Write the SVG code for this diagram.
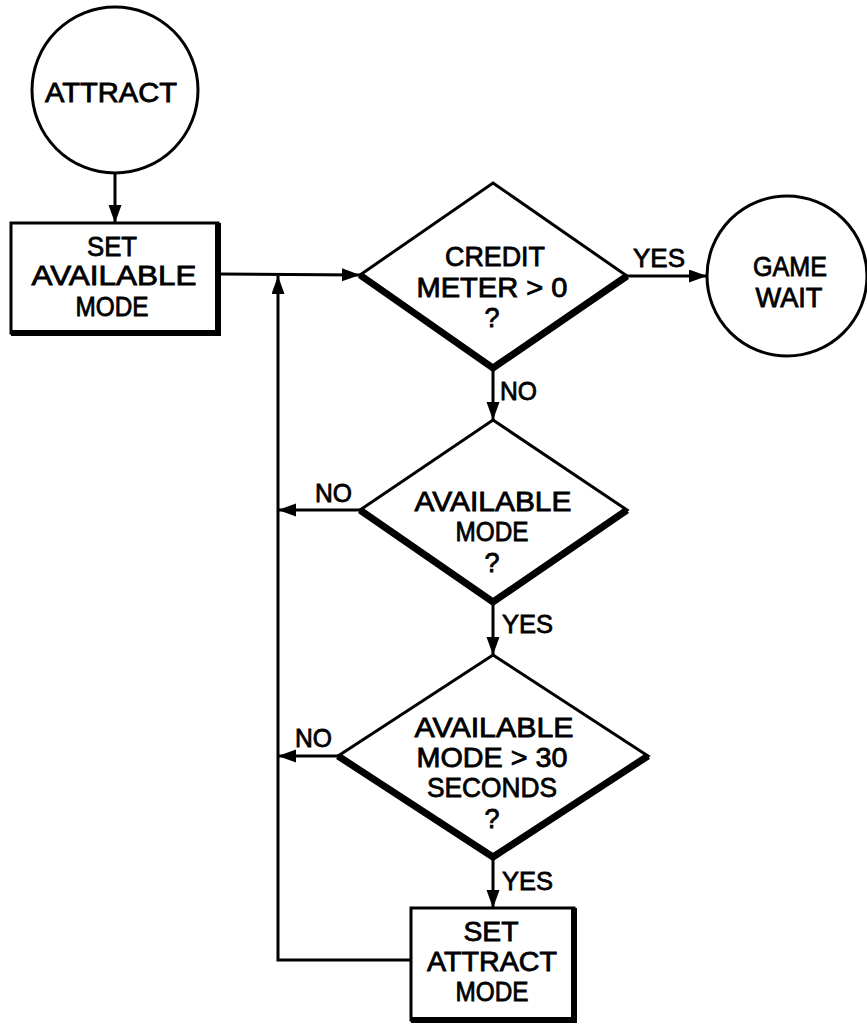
<svg xmlns="http://www.w3.org/2000/svg" width="867" height="1026" viewBox="0 0 867 1026">
<defs>
<marker id="arr" markerUnits="userSpaceOnUse" markerWidth="20" markerHeight="14" refX="18" refY="6.5" orient="auto">
<path d="M0,0 L18,6.5 L0,13 z" fill="#000"/>
</marker>
</defs>
<style>
.t{font-family:"Liberation Sans",Arial,sans-serif;font-size:27px;fill:#000;stroke:#000;stroke-width:0.8;text-anchor:middle}
.l{font-family:"Liberation Sans",Arial,sans-serif;font-size:26px;fill:#000;stroke:#000;stroke-width:0.8}
.thin{fill:none;stroke:#000;stroke-width:3}
.thick{fill:none;stroke:#000;stroke-width:7;stroke-linejoin:miter}
.bx{fill:none;stroke:#000;stroke-width:6}
.c{fill:none;stroke:#000;stroke-width:3;marker-end:url(#arr)}
</style>
<rect width="867" height="1026" fill="#fff"/>
<g id="connectors">
<line class="c" x1="115" y1="173" x2="115" y2="223"/>
<line class="c" x1="219" y1="274" x2="360" y2="275"/>
<polyline class="c" points="411,960 278,960 278,276"/>
<line class="c" x1="627" y1="276" x2="707" y2="276"/>
<line class="c" x1="493" y1="368" x2="493" y2="420"/>
<line class="c" x1="360" y1="510" x2="278" y2="510"/>
<line class="c" x1="493" y1="602" x2="493" y2="655"/>
<line class="c" x1="338" y1="756" x2="278" y2="756"/>
<line class="c" x1="493" y1="857" x2="493" y2="908"/>
<text class="l" x="633" y="267" textLength="52" lengthAdjust="spacingAndGlyphs">YES</text>
<text class="l" x="500" y="400" textLength="37" lengthAdjust="spacingAndGlyphs">NO</text>
<text class="l" x="315" y="502" textLength="37" lengthAdjust="spacingAndGlyphs">NO</text>
<text class="l" x="502" y="633" textLength="51" lengthAdjust="spacingAndGlyphs">YES</text>
<text class="l" x="295" y="747" textLength="37" lengthAdjust="spacingAndGlyphs">NO</text>
<text class="l" x="502" y="890" textLength="51" lengthAdjust="spacingAndGlyphs">YES</text>
</g>
<g id="attract">
<circle class="thin" cx="115" cy="90" r="83"/>
<text class="t" x="111" y="102" textLength="132" lengthAdjust="spacingAndGlyphs">ATTRACT</text>
</g>
<g id="set-available">
<rect class="thin" x="11" y="223" width="207" height="110"/>
<polyline class="bx" points="218,223 218,333 11,333"/>
<text class="t" x="112" y="256" textLength="50" lengthAdjust="spacingAndGlyphs">SET</text>
<text class="t" x="114" y="285" textLength="165" lengthAdjust="spacingAndGlyphs">AVAILABLE</text>
<text class="t" x="112" y="316" textLength="73" lengthAdjust="spacingAndGlyphs">MODE</text>
</g>
<g id="credit">
<polygon class="thin" points="493,183 627,276 493,368 360,275"/>
<polyline class="thick" points="360,275 493,368 627,276"/>
<text class="t" x="495" y="266" textLength="100" lengthAdjust="spacingAndGlyphs">CREDIT</text>
<text class="t" x="492" y="297" textLength="151" lengthAdjust="spacingAndGlyphs">METER &gt; 0</text>
<text class="t" x="492" y="327">?</text>
</g>
<g id="game-wait">
<circle class="thin" cx="787" cy="276" r="80"/>
<text class="t" x="790" y="276" textLength="74" lengthAdjust="spacingAndGlyphs">GAME</text>
<text class="t" x="789" y="307" textLength="67" lengthAdjust="spacingAndGlyphs">WAIT</text>
</g>
<g id="available">
<polygon class="thin" points="493,420 627,510 493,602 360,510"/>
<polyline class="thick" points="360,510 493,602 627,510"/>
<text class="t" x="493" y="511" textLength="157" lengthAdjust="spacingAndGlyphs">AVAILABLE</text>
<text class="t" x="492" y="541" textLength="73" lengthAdjust="spacingAndGlyphs">MODE</text>
<text class="t" x="492" y="572">?</text>
</g>
<g id="available30">
<polygon class="thin" points="493,655 648,756 493,857 338,756"/>
<polyline class="thick" points="338,756 493,857 648,756"/>
<text class="t" x="494" y="737" textLength="159" lengthAdjust="spacingAndGlyphs">AVAILABLE</text>
<text class="t" x="492" y="767" textLength="151" lengthAdjust="spacingAndGlyphs">MODE &gt; 30</text>
<text class="t" x="492" y="797" textLength="130" lengthAdjust="spacingAndGlyphs">SECONDS</text>
<text class="t" x="492" y="828">?</text>
</g>
<g id="set-attract">
<rect class="thin" x="411" y="908" width="163" height="112"/>
<polyline class="bx" points="574,908 574,1020 411,1020"/>
<text class="t" x="491" y="941" textLength="55" lengthAdjust="spacingAndGlyphs">SET</text>
<text class="t" x="492" y="971" textLength="130" lengthAdjust="spacingAndGlyphs">ATTRACT</text>
<text class="t" x="492" y="1001" textLength="73" lengthAdjust="spacingAndGlyphs">MODE</text>
</g>
</svg>
